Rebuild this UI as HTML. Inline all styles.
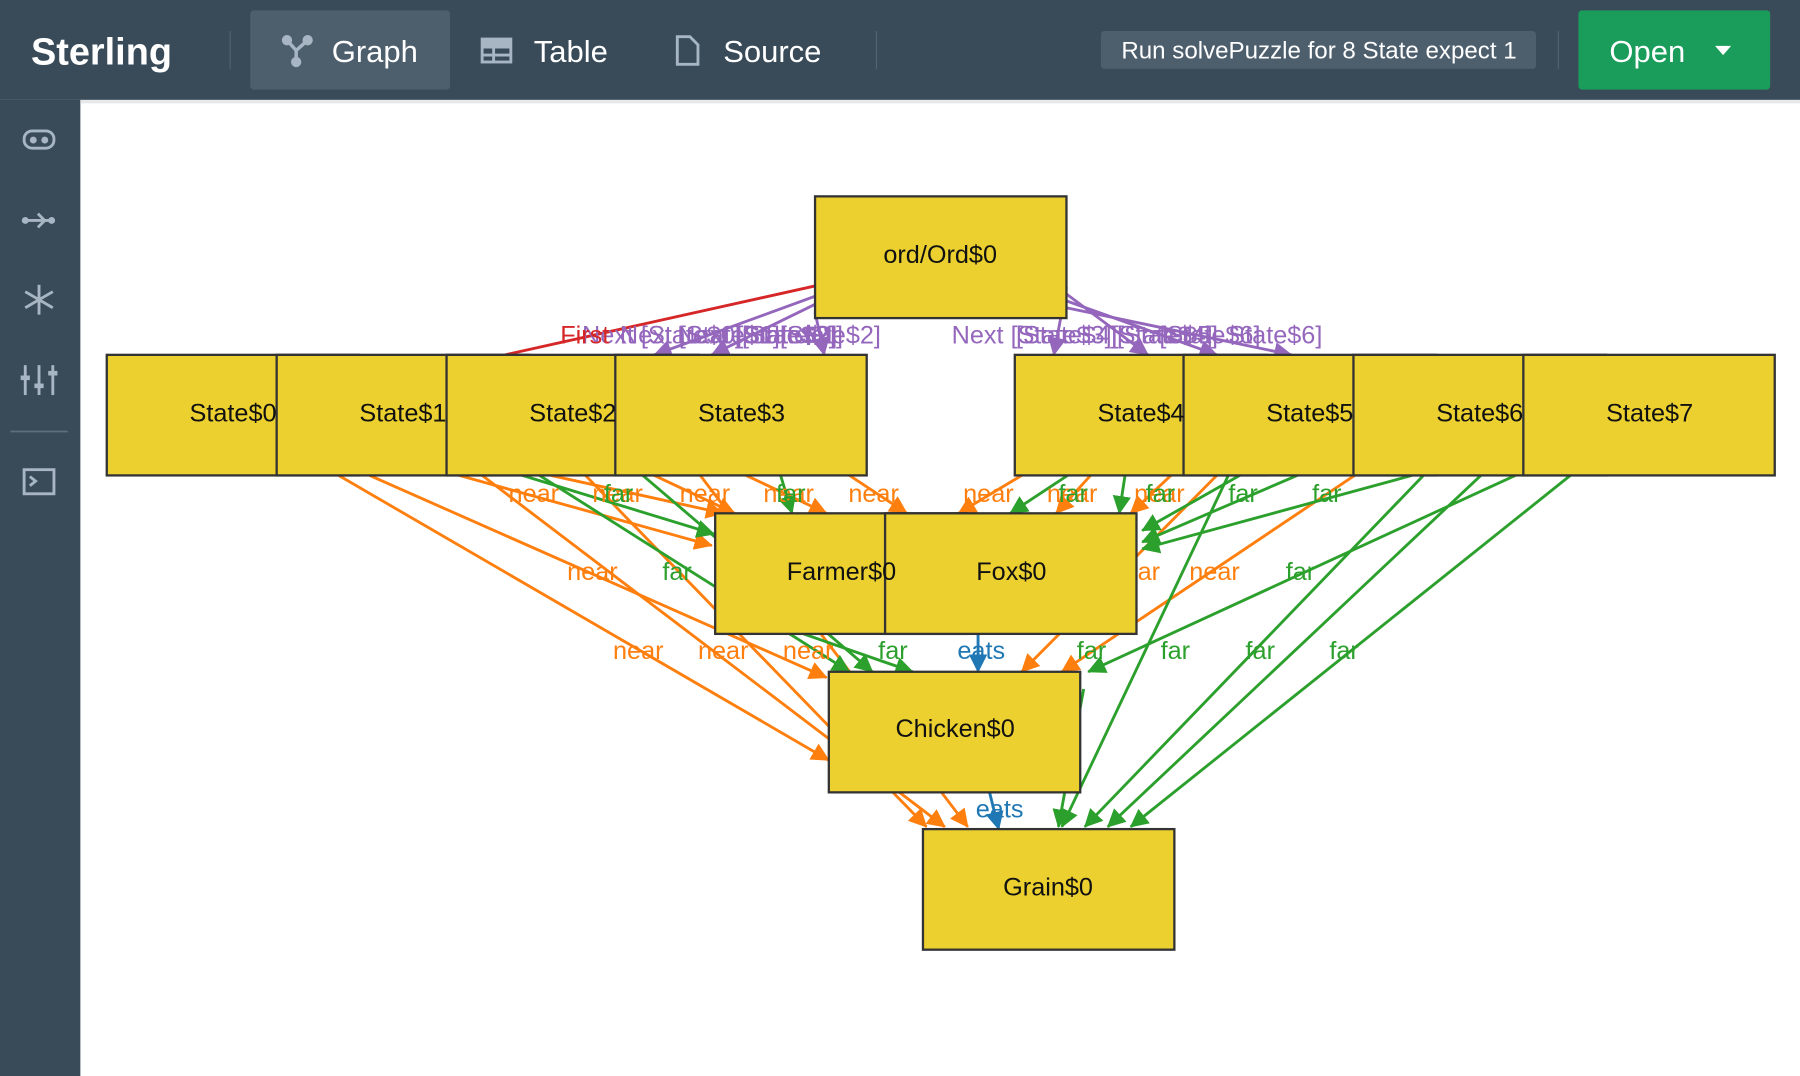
<!DOCTYPE html>
<html><head><meta charset="utf-8"><style>
html,body{margin:0;padding:0;width:1800px;height:1076px;overflow:hidden;background:#fff}
svg{display:block}
</style></head><body>
<svg width="1800" height="1076" viewBox="0 0 1568 937" preserveAspectRatio="none" xmlns="http://www.w3.org/2000/svg" font-family="Liberation Sans, sans-serif">
<defs>
<marker id="ao" viewBox="0 0 10 10" refX="9" refY="5" markerWidth="7" markerHeight="7" orient="auto-start-reverse" markerUnits="userSpaceOnUse"><path d="M0,0L10,5L0,10z" fill="#ff7f0e" transform="scale(1.6)"/></marker>
<marker id="ag" viewBox="0 0 16 16" refX="15" refY="8" markerWidth="16" markerHeight="16" orient="auto" markerUnits="userSpaceOnUse"><path d="M0,0L16,8L0,16z" fill="#2ca02c"/></marker>
<marker id="ao2" viewBox="0 0 16 16" refX="15" refY="8" markerWidth="16" markerHeight="16" orient="auto" markerUnits="userSpaceOnUse"><path d="M0,0L16,8L0,16z" fill="#ff7f0e"/></marker>
<marker id="ap" viewBox="0 0 16 16" refX="15" refY="8" markerWidth="16" markerHeight="16" orient="auto" markerUnits="userSpaceOnUse"><path d="M0,0L16,8L0,16z" fill="#9467bd"/></marker>
<marker id="ab" viewBox="0 0 16 16" refX="15" refY="8" markerWidth="16" markerHeight="16" orient="auto" markerUnits="userSpaceOnUse"><path d="M0,0L16,8L0,16z" fill="#1f77b4"/></marker>
</defs>
<!-- header -->
<rect x="0" y="0" width="1568" height="87" fill="#394b59"/>
<rect x="0" y="87" width="70" height="850" fill="#394b59"/>
<rect x="70" y="87" width="1498" height="3" fill="#e6e8ea"/>
<text x="27" y="56" font-size="33" font-weight="bold" fill="#fff">Sterling</text>
<rect x="200" y="27" width="1" height="33" fill="#53646f"/>
<rect x="218" y="9" width="174" height="69" rx="3" fill="#4d5e6c"/>
<g stroke="#a7b6c2" stroke-width="3" fill="#a7b6c2"><line x1="250" y1="35" x2="258" y2="44"/><line x1="268" y1="35" x2="258" y2="44"/><line x1="258" y1="44" x2="258" y2="54"/><circle cx="250" cy="35" r="3"/><circle cx="268" cy="35" r="3"/><circle cx="258" cy="54" r="3"/></g>
<text x="289" y="54" font-size="27" fill="#fff">Graph</text>
<g fill="none" stroke="#a7b6c2" stroke-width="2.5"><rect x="420" y="34" width="25" height="20"/><line x1="420" y1="41" x2="445" y2="41"/><line x1="420" y1="48" x2="445" y2="48"/><line x1="430" y1="41" x2="430" y2="54"/></g>
<rect x="420" y="34" width="25" height="7" fill="#a7b6c2"/>
<text x="465" y="54" font-size="27" fill="#fff">Table</text>
<path d="M590 32h11l7 7v17h-18z" fill="none" stroke="#a7b6c2" stroke-width="2.5"/>
<text x="630" y="54" font-size="27" fill="#fff">Source</text>
<rect x="763" y="27" width="1" height="33" fill="#53646f"/>
<rect x="959" y="27" width="379" height="33" rx="3" fill="#4d5e6c"/>
<text x="1149" y="51" font-size="21" fill="#fff" text-anchor="middle">Run solvePuzzle for 8 State expect 1</text>
<rect x="1357" y="27" width="1" height="33" fill="#53646f"/>
<rect x="1375" y="9" width="167" height="69" rx="3" fill="#1a9c5a"/>
<text x="1402" y="54" font-size="27" fill="#fff">Open</text>
<path d="M1494 40h14l-7 8z" fill="#fff"/>
<!-- sidebar icons -->
<g fill="none" stroke="#a7b6c2" stroke-width="2.5">
<rect x="21" y="114" width="26" height="15" rx="7"/>
<line x1="21" y1="192" x2="45" y2="192"/><path d="M33 186l6 6-6 6"/>
<line x1="34" y1="248" x2="34" y2="274"/><line x1="22" y1="254" x2="46" y2="268"/><line x1="22" y1="268" x2="46" y2="254"/>
<line x1="22" y1="318" x2="22" y2="344"/><line x1="34" y1="318" x2="34" y2="344"/><line x1="46" y1="318" x2="46" y2="344"/>
<rect x="21" y="409" width="26" height="21"/><path d="M26 415l5 4-5 4"/>
</g>
<circle cx="29" cy="122" r="3" fill="#a7b6c2"/><circle cx="39" cy="122" r="3" fill="#a7b6c2"/>
<circle cx="22" cy="192" r="3" fill="#a7b6c2"/><circle cx="45" cy="192" r="3" fill="#a7b6c2"/>
<rect x="18" y="327" width="8" height="4" fill="#a7b6c2"/><rect x="30" y="334" width="8" height="4" fill="#a7b6c2"/><rect x="42" y="323" width="8" height="4" fill="#a7b6c2"/>
<rect x="9" y="375" width="50" height="1.5" fill="#5c6f7d"/>
<!-- ord edges -->
<g stroke-width="2.5" fill="none">
<line x1="710" y1="249" x2="440" y2="309" stroke="#d62728"/>
<g stroke="#9467bd" marker-end="url(#ap)">
<line x1="710" y1="258" x2="570" y2="309"/><line x1="710" y1="265" x2="620" y2="309"/><line x1="710" y1="272" x2="718" y2="309"/>
<line x1="929" y1="250" x2="918" y2="309"/><line x1="929" y1="256" x2="1000" y2="309"/><line x1="929" y1="262" x2="1060" y2="309"/><line x1="929" y1="268" x2="1125" y2="309"/>
</g>
</g>
<g font-size="22" fill="#9467bd">
<text x="507" y="299">Next [State$0][State$1]</text>
<text x="540" y="299">Next [State$1][State$2]</text>
<text x="590" y="299">Next [State$2]</text>
<text x="640" y="299">[State$2]</text>
<text x="829" y="299">Next [State$3][State$4]</text>
<text x="885" y="299">[State$4][State$5]</text>
<text x="1010" y="299">[State$6]</text>
<text x="1070" y="299">State$6]</text>
</g>
<text x="488" y="299" font-size="22" fill="#d62728">First</text>
<!-- state->object edges -->
<g stroke-width="2.5" fill="none">
<g stroke="#ff7f0e" marker-end="url(#ao2)">
<line x1="295" y1="414" x2="722" y2="662"/><line x1="322" y1="414" x2="720" y2="590"/>
<line x1="400" y1="414" x2="620" y2="475"/><line x1="420" y1="414" x2="823" y2="720"/>
<line x1="480" y1="414" x2="630" y2="447"/><line x1="510" y1="414" x2="807" y2="720"/>
<line x1="570" y1="414" x2="640" y2="447"/><line x1="610" y1="414" x2="843" y2="720"/>
<line x1="650" y1="414" x2="720" y2="447"/><line x1="740" y1="414" x2="790" y2="447"/>
<line x1="890" y1="414" x2="835" y2="447"/><line x1="950" y1="414" x2="920" y2="447"/>
<line x1="1060" y1="414" x2="890" y2="585"/><line x1="1180" y1="414" x2="925" y2="585"/>
<line x1="1020" y1="414" x2="985" y2="447"/>
</g>
<g stroke="#2ca02c" marker-end="url(#ag)">
<line x1="455" y1="414" x2="622" y2="465"/><line x1="470" y1="414" x2="740" y2="585"/>
<line x1="560" y1="414" x2="760" y2="585"/><line x1="680" y1="414" x2="690" y2="447"/>
<line x1="700" y1="552" x2="795" y2="585"/>
<line x1="930" y1="414" x2="880" y2="447"/><line x1="980" y1="414" x2="975" y2="447"/>
<line x1="1080" y1="414" x2="995" y2="462"/><line x1="1130" y1="414" x2="995" y2="472"/>
<line x1="1230" y1="414" x2="995" y2="478"/>
<line x1="1320" y1="414" x2="948" y2="585"/>
<line x1="1070" y1="414" x2="925" y2="720"/><line x1="1240" y1="414" x2="945" y2="720"/>
<line x1="1290" y1="414" x2="965" y2="720"/><line x1="1368" y1="414" x2="985" y2="720"/>
<line x1="944" y1="600" x2="922" y2="720"/>
</g>
<line x1="852" y1="552" x2="852" y2="585" stroke="#1f77b4" marker-end="url(#ab)"/>
<line x1="862" y1="690" x2="870" y2="722" stroke="#1f77b4" marker-end="url(#ab)"/>
</g>
<!-- labels -->
<g font-size="22" fill="#ff7f0e">
<text x="443" y="437">near</text><text x="516" y="437">near</text><text x="592" y="437">near</text><text x="665" y="437">near</text><text x="739" y="437">near</text><text x="839" y="437">near</text><text x="912" y="437">near</text><text x="988" y="437">near</text>
<text x="494" y="505">near</text><text x="1036" y="505">near</text><text x="991" y="505">ar</text>
<text x="534" y="574">near</text><text x="608" y="574">near</text><text x="682" y="574">near</text>
</g>
<g font-size="22" fill="#2ca02c">
<text x="526" y="437">far</text><text x="676" y="437">far</text><text x="922" y="437">far</text><text x="998" y="437">far</text><text x="1070" y="437">far</text><text x="1143" y="437">far</text>
<text x="577" y="505">far</text><text x="1120" y="505">far</text>
<text x="765" y="574">far</text><text x="938" y="574">far</text><text x="1011" y="574">far</text><text x="1085" y="574">far</text><text x="1158" y="574">far</text>
</g>
<text x="834" y="574" font-size="22" fill="#1f77b4">eats</text>
<text x="850" y="712" font-size="22" fill="#1f77b4">eats</text>
<!-- nodes -->
<g fill="#ebd02f" stroke="#333" stroke-width="2">
<rect x="710" y="171" width="219" height="106"/>
<rect x="93" y="309" width="220" height="105"/>
<rect x="241" y="309" width="220" height="105"/>
<rect x="389" y="309" width="220" height="105"/>
<rect x="536" y="309" width="219" height="105"/>
<rect x="884" y="309" width="220" height="105"/>
<rect x="1031" y="309" width="220" height="105"/>
<rect x="1179" y="309" width="220" height="105"/>
<rect x="1327" y="309" width="219" height="105"/>
<rect x="623" y="447" width="220" height="105"/>
<rect x="771" y="447" width="219" height="105"/>
<rect x="722" y="585" width="219" height="105"/>
<rect x="804" y="722" width="219" height="105"/>
</g>
<g font-size="22" fill="#111" text-anchor="middle">
<text x="819" y="229">ord/Ord$0</text>
<text x="203" y="367">State$0</text><text x="351" y="367">State$1</text><text x="499" y="367">State$2</text><text x="646" y="367">State$3</text>
<text x="994" y="367">State$4</text><text x="1141" y="367">State$5</text><text x="1289" y="367">State$6</text><text x="1437" y="367">State$7</text>
<text x="733" y="505">Farmer$0</text><text x="881" y="505">Fox$0</text>
<text x="832" y="642">Chicken$0</text><text x="913" y="780">Grain$0</text>
</g>
</svg>
</body></html>
